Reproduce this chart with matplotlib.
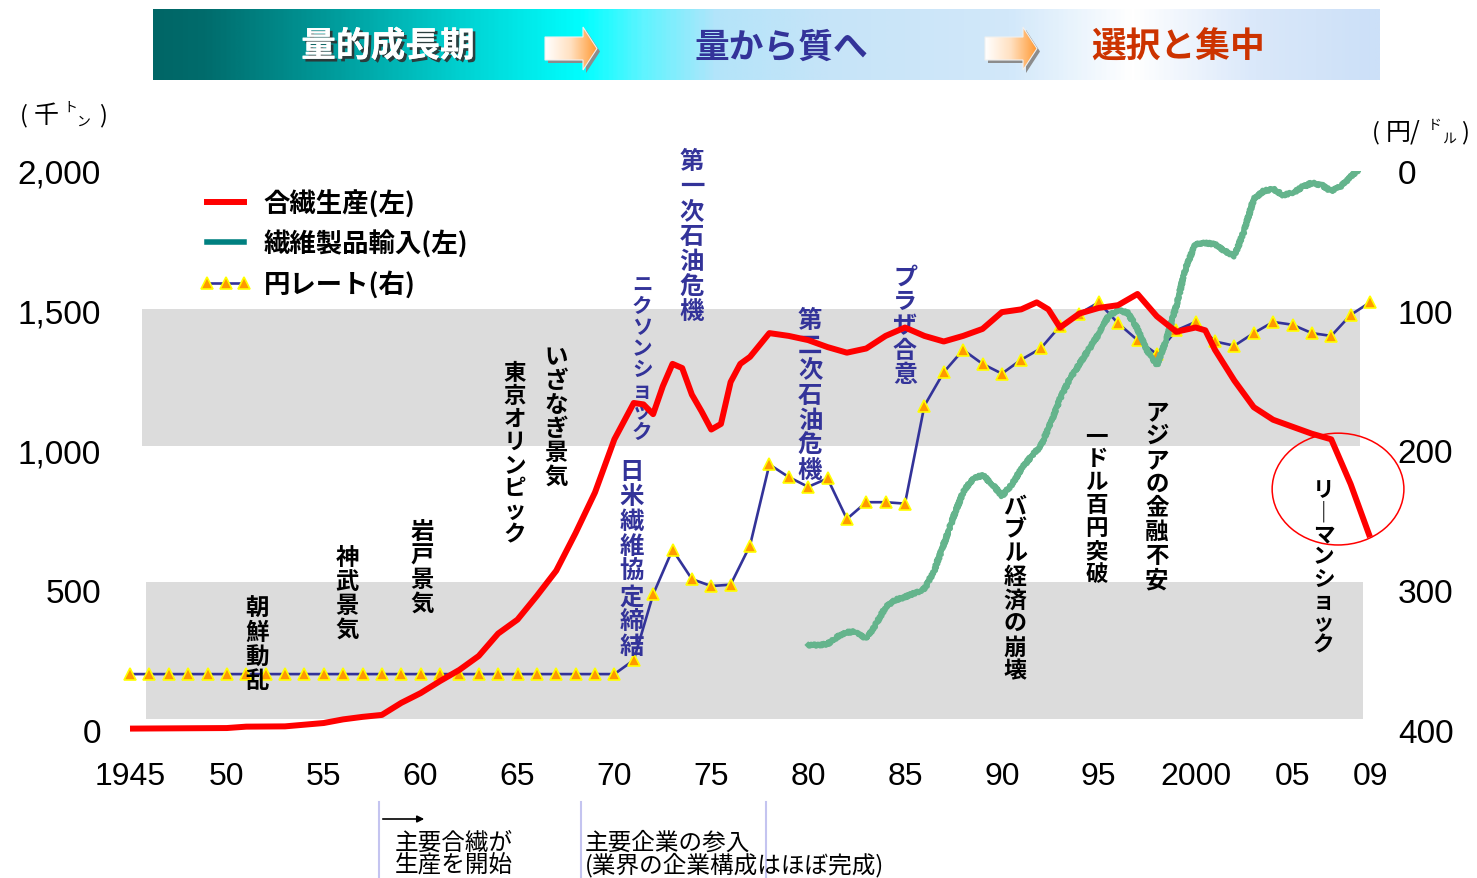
import numpy as np
import matplotlib
import matplotlib.pyplot as plt
from matplotlib import patheffects, transforms
from matplotlib.colors import LinearSegmentedColormap
from matplotlib.lines import Line2D
from matplotlib.patches import Polygon, Rectangle, Ellipse

matplotlib.use("Agg")

plt.rcParams["font.family"] = ["Noto Sans CJK JP", "DejaVu Sans"]

W, H = 1477, 879

# synthetic fibre production (thousand tons, left axis)
prod_years = [1945, 1950, 1951, 1953, 1955, 1956, 1957, 1958, 1959, 1960,
              1961, 1962, 1963, 1964, 1965, 1966, 1967, 1968, 1969, 1970,
              1971, 1971.5, 1972, 1972.5, 1973, 1973.5, 1974, 1974.5, 1975, 1975.5,
              1976, 1976.5, 1977, 1978, 1979, 1980, 1981, 1982, 1983, 1984,
              1985, 1986, 1987, 1988, 1989, 1990, 1991, 1991.8, 1992.4, 1993,
              1994, 1995, 1996, 1997, 1998, 1999, 2000, 2000.5, 2001, 2002,
              2003, 2004, 2005, 2006, 2007, 2008, 2009]
production = [5, 7, 12, 13, 25, 38, 47, 54, 97, 132,
              175, 215, 265, 345, 395, 480, 570, 705, 850, 1040,
              1170, 1165, 1130, 1230, 1310, 1295, 1200, 1140, 1075, 1095,
              1245, 1310, 1335, 1420, 1410, 1395, 1370, 1350, 1365, 1410,
              1440, 1410, 1390, 1410, 1435, 1495, 1505, 1530, 1505, 1440,
              1490, 1510, 1520, 1560, 1480, 1425, 1440, 1430, 1360, 1250,
              1155, 1110, 1085, 1060, 1040, 880, 690]

# textile product imports (thousand tons, left axis)
import_years = [1980, 1980.5, 1981, 1981.5, 1982, 1982.5, 1983, 1983.5, 1984, 1984.5,
                1985, 1985.5, 1986, 1986.5, 1987, 1987.5, 1988, 1988.5, 1989, 1989.5,
                1990, 1990.5, 1991, 1991.5, 1992, 1992.5, 1993, 1993.5, 1994, 1994.5,
                1995, 1995.5, 1996, 1996.5, 1997, 1997.5, 1998, 1998.5, 1999, 1999.5,
                2000, 2000.5, 2001, 2001.5, 2002, 2002.5, 2003, 2003.5, 2004, 2004.5,
                2005, 2005.5, 2006, 2006.5, 2007, 2007.5, 2008, 2008.5]
imports = [304, 304, 308, 333, 351, 351, 326, 379, 440, 465,
           476, 490, 504, 569, 665, 762, 852, 898, 912, 880,
           837, 877, 934, 977, 1016, 1095, 1184, 1256, 1309, 1363,
           1417, 1481, 1503, 1492, 1435, 1356, 1306, 1399, 1517, 1657,
           1739, 1742, 1739, 1714, 1696, 1785, 1900, 1928, 1936, 1914,
           1921, 1943, 1957, 1950, 1928, 1946, 1979, 2011]

# yen / dollar rate (right axis, inverted)
yen_years = list(range(1945, 2010))
yen_rate = [360, 360, 360, 360, 360, 360, 360, 360, 360, 360,
            360, 360, 360, 360, 360, 360, 360, 360, 360, 360,
            360, 360, 360, 360, 360, 360, 350, 303, 271, 292,
            297, 296, 268, 210, 219, 226, 220, 249, 237, 237,
            238, 168, 144, 128, 138, 145, 135, 127, 111, 102,
            94, 109, 121, 131, 114, 108, 122, 125, 116, 108,
            110, 116, 118, 103, 94]

xtick_pos = [1945, 1950, 1955, 1960, 1965, 1970, 1975, 1980, 1985, 1990, 1995, 2000, 2005, 2009]
xtick_labels = ["1945", "50", "55", "60", "65", "70", "75", "80", "85", "90", "95", "2000", "05", "09"]
left_ticks = [0, 500, 1000, 1500, 2000]
left_labels = ["0", "500", "1,000", "1,500", "2,000"]
right_ticks = [0, 100, 200, 300, 400]

legend_labels = ["合繊生産(左)", "繊維製品輸入(左)", "円レート(右)"]

# (text, year, top value on left axis, colour, char step px)
events = [
    ("朝鮮動乱", 1951.55, 479, "black", 24),
    ("神武景気", 1956.2, 662, "black", 24),
    ("岩戸景気", 1960.07, 755, "black", 24),
    ("東京オリンピック", 1964.87, 1320, "black", 23),
    ("いざなぎ景気", 1966.99, 1381, "black", 24),
    ("ニクソンショック", 1971.43, 1631, "#333399", 21),
    ("日米繊維協定締結", 1970.9, 970, "#333399", 25),
    ("第一次石油危機", 1974.0, 2079, "#333399", 25),
    ("第二次石油危機", 1980.1, 1513, "#333399", 25),
    ("プラザ合意", 1985.0, 1667, "#333399", 24.5),
    ("バブル経済の崩壊", 1990.68, 844, "black", 23.5),
    ("一ドル百円突破", 1994.9, 1095, "black", 23),
    ("アジアの金融不安", 1998.0, 1184, "black", 24),
    ("リーマンショック", 2006.6, 898, "black", 22),
]

period_bounds = [1957.85, 1968.3, 1977.8]

fig = plt.figure(figsize=(W / 100, H / 100), dpi=100)
ax = fig.add_axes([130 / W, 1 - 731 / H, 1240 / W, 559 / H])
ax2 = ax.twinx()
ax.set_xlim(1945, 2009)
ax.set_ylim(0, 2000)
ax2.set_ylim(400, 0)
for a in (ax, ax2):
    for s in a.spines.values():
        s.set_visible(False)
    a.patch.set_visible(False)

# grey bands
ax.add_patch(Rectangle((1945.6, 1016), 62.9, 490, color="#dcdcdc", lw=0, zorder=0.5))
ax.add_patch(Rectangle((1945.8, 39), 62.85, 491, color="#dcdcdc", lw=0, zorder=0.5))

# lines
ax.plot(yen_years, yen_rate, color="#333399", lw=1.9, marker="^", ms=9,
        mfc="#ff9900", mec="#ffff00", mew=1.2, transform=ax2.transData,
        clip_on=False, zorder=2)
green, = ax.plot(import_years, imports, color="#64b48c", lw=3.8, zorder=3)
green.set_sketch_params(scale=1.2, length=3, randomness=2)
ax.plot(prod_years, production, color="#ff0000", lw=4.3, zorder=3.2,
        solid_capstyle="butt", clip_on=False)

ax.add_patch(Ellipse((2007.35, 862), 6.8, 400, fill=False, ec="#ff0000", lw=1.1,
                     zorder=3, clip_on=False))

# vertical event labels
for text, yr, top, col, step in events:
    size = min(18, step / 1.42)
    for i, ch in enumerate(text):
        if ch == "ー":
            ch = "｜"
        tr = transforms.offset_copy(ax.transData, fig=fig, x=0, y=-step * (i + 0.5), units="dots")
        ax.text(yr, top, ch, transform=tr, ha="center", va="center", fontsize=size,
                fontweight="bold", color=col, zorder=2.5)

# ticks
ax.set_xticks(xtick_pos, xtick_labels)
ax.set_yticks(left_ticks, left_labels)
ax2.set_yticks(right_ticks, [str(t) for t in right_ticks])
ax.tick_params(axis="x", length=0, pad=22, labelsize=23, labelfontfamily="Liberation Sans")
ax.tick_params(axis="y", length=0, pad=21, labelsize=24, labelfontfamily="Liberation Sans")
ax2.tick_params(axis="y", length=0, pad=20, labelsize=24, labelfontfamily="Liberation Sans")

# legend
handles = [
    Line2D([], [], color="#ff0000", lw=4.3),
    Line2D([], [], color="#008080", lw=4),
    Line2D([], [], color="#333399", lw=1.9, marker="^", ms=8, mfc="#ff9900",
           mec="#ffff00", mew=1.2),
]
ax.legend(handles, legend_labels, loc="upper left", bbox_to_anchor=(186 / W, 1 - 177 / H),
          bbox_transform=fig.transFigure, frameon=False, numpoints=3,
          handlelength=2.0, handletextpad=0.45, labelspacing=0.47, borderpad=0,
          prop={"family": ["Noto Sans CJK JP", "DejaVu Sans"], "weight": "bold", "size": 19})

# period boundaries below the axis
btr = transforms.blended_transform_factory(ax.transData, fig.transFigure)
for b in period_bounds:
    ax.plot([b, b], [0, 1 - 803 / H], color="#c4c4f0", lw=1.5, transform=btr, clip_on=False)

# overlay in pixel coordinates for banner and notes
ov = fig.add_axes([0, 0, 1, 1], zorder=5)
ov.set_axis_off()
ov.patch.set_visible(False)

banner_cmap = LinearSegmentedColormap.from_list("banner", [
    (0.0, "#006666"), (0.04, "#006c6c"), (0.14, "#009999"), (0.26, "#00d6d6"),
    (0.35, "#00ffff"), (0.40, "#60f4ff"), (0.46, "#b4e4fa"), (0.55, "#c6e4f8"),
    (0.70, "#d2e8fa"), (0.80, "#ffffff"), (0.90, "#dae8fa"), (1.0, "#cce0f8")])
ov.imshow(np.linspace(0, 1, 600)[None, :], cmap=banner_cmap, aspect="auto",
          extent=(153, 1380, 81, 10), interpolation="bilinear", zorder=0)

arrow_cmap = LinearSegmentedColormap.from_list("arr", ["#ffffff", "#ffe0c0", "#ff9933"])
for x0 in (545, 985):
    pts = [(x0, 38), (x0 + 38, 38), (x0 + 38, 28), (x0 + 52, 49.5),
           (x0 + 38, 71), (x0 + 38, 61), (x0, 61)]
    shadow = Polygon([(px + 3, py + 3) for px, py in pts], closed=True, fc="#8c8c8c",
                     ec="none", zorder=1)
    ov.add_patch(shadow)
    poly = Polygon(pts, closed=True, fc="none", ec="#f0f0f0", lw=0.8, zorder=3)
    ov.add_patch(poly)
    im = ov.imshow(np.linspace(0, 1, 100)[None, :], cmap=arrow_cmap, aspect="auto",
                   extent=(x0, x0 + 52, 71, 28), interpolation="bilinear", zorder=2)
    im.set_clip_path(poly)

shadow_fx = [patheffects.withSimplePatchShadow(offset=(2, -2), shadow_rgbFace="#303030", alpha=0.9),
             patheffects.Normal()]
ov.text(388, 47, "量的成長期", ha="center", va="center", fontsize=25, fontweight="bold",
        color="white", path_effects=shadow_fx, zorder=4)
ov.text(781, 47, "量から質へ", ha="center", va="center", fontsize=25, fontweight="bold",
        color="#333399", zorder=4)
ov.text(1178, 47, "選択と集中", ha="center", va="center", fontsize=25, fontweight="bold",
        color="#cc3300", zorder=4)

# unit labels
ov.text(20, 116, "(", ha="left", va="center", fontsize=17)
ov.text(34, 116, "千", ha="left", va="center", fontsize=18)
ov.text(63, 108, "ト", ha="left", va="center", fontsize=10)
ov.text(76, 122, "ン", ha="left", va="center", fontsize=10)
ov.text(99, 116, ")", ha="left", va="center", fontsize=17)
ov.text(1372, 133, "(", ha="left", va="center", fontsize=17)
ov.text(1386, 133, "円/", ha="left", va="center", fontsize=18)
ov.text(1428, 125, "ド", ha="left", va="center", fontsize=10)
ov.text(1442, 139, "ル", ha="left", va="center", fontsize=10)
ov.text(1461, 133, ")", ha="left", va="center", fontsize=17)

# notes below the axis
ov.annotate("", xy=(427, 820), xytext=(380, 820),
            arrowprops=dict(arrowstyle="-|>", color="black", lw=1.2, mutation_scale=10))
ov.text(395, 843, "主要合繊が", ha="left", va="center", fontsize=17)
ov.text(395, 865, "生産を開始", ha="left", va="center", fontsize=17)
ov.text(585, 843, "主要企業の参入", ha="left", va="center", fontsize=17)
ov.text(585, 865, "(業界の企業構成はほぼ完成)", ha="left", va="center", fontsize=17)

ov.set_xlim(0, W)
ov.set_ylim(H, 0)

fig.savefig("out.png", dpi=100)
